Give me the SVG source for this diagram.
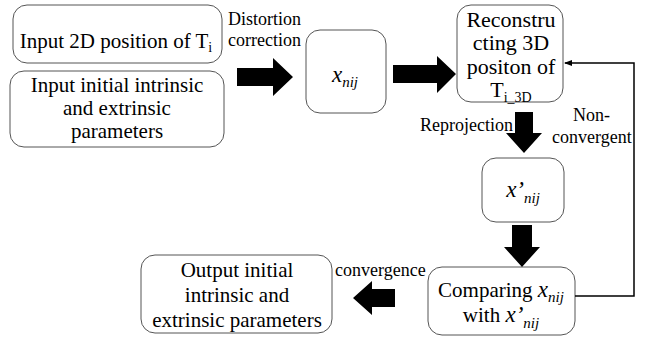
<svg xmlns="http://www.w3.org/2000/svg" width="645" height="337" viewBox="0 0 645 337" font-family="Liberation Serif, Times New Roman, serif">
<style>
.box{fill:#fff;stroke:#555;stroke-width:1}
.t{font-size:21px;text-anchor:middle}
.t4{font-size:22px}
.l{font-size:18px}
.blk{fill:#000}
.it{font-style:italic}
.xb{font-size:23px}
.sb{font-size:15px}
.si{font-size:14px}
</style>
<defs>
<marker id="ah" markerWidth="8" markerHeight="6" refX="7" refY="3" orient="auto" markerUnits="userSpaceOnUse">
<path d="M0,0 L8,3 L0,6 Z" fill="#000"/>
</marker>
</defs>
<rect width="645" height="337" fill="#fff"/>
<g id="n1">
<rect class="box" x="13" y="5" width="209" height="58" rx="14"/>
<text class="t" x="116" y="48">Input 2D position of T<tspan class="si" dy="4">i</tspan></text>
</g>
<g id="n2">
<rect class="box" x="10" y="71" width="214" height="76" rx="14"/>
<text class="t" x="117" y="92">Input initial intrinsic</text>
<text class="t" x="117" y="115">and extrinsic</text>
<text class="t" x="117" y="138">parameters</text>
</g>
<g id="n3">
<rect class="box" x="306" y="30" width="80" height="83" rx="14"/>
<text class="t it" x="345" y="82"><tspan class="xb">x</tspan><tspan class="sb" dy="5">nij</tspan></text>
</g>
<g id="n4">
<rect class="box" x="457" y="5" width="106" height="97" rx="14"/>
<text class="t t4" x="511" y="27">Reconstru</text>
<text class="t t4" x="511" y="50">cting 3D</text>
<text class="t t4" x="511" y="74">positon of</text>
<text class="t t4" x="511" y="97">T<tspan class="si" dy="5">i_3D</tspan></text>
</g>
<g id="n5">
<rect class="box" x="482" y="158" width="82" height="64" rx="14"/>
<text class="t it" x="523" y="197"><tspan class="xb">x’</tspan><tspan class="sb" dy="6">nij</tspan></text>
</g>
<g id="n6">
<rect class="box" x="428" y="267" width="147" height="68" rx="14"/>
<text class="t" x="501" y="297">Comparing <tspan class="it xb">x</tspan><tspan class="it sb" dy="5">nij</tspan></text>
<text class="t" x="501" y="322">with <tspan class="it xb">x’</tspan><tspan class="it sb" dy="6">nij</tspan></text>
</g>
<g id="n7">
<rect class="box" x="141" y="255" width="191" height="78" rx="14"/>
<text class="t" x="237" y="277">Output initial</text>
<text class="t" x="237" y="302">intrinsic and</text>
<text class="t" x="237" y="327">extrinsic parameters</text>
</g>
<g id="connectors">
<path class="blk" d="M237,68 H273 V58 L293,77 L273,96 V86 H237 Z"/>
<path class="blk" d="M393,65 H437 V56 L456,74 L437,93 V83 H393 Z"/>
<path class="blk" d="M515,112 H533 V133 H542 L524,153 L506,133 H515 Z"/>
<path class="blk" d="M512,225 H532 V247 H540 L522,267 L504,247 H512 Z"/>
<path class="blk" d="M395,289 H372 V281 L353,298 L372,315 V307 H395 Z"/>
<polyline points="575,296 634,296 634,63 565,63" fill="none" stroke="#000" stroke-width="1.5" marker-end="url(#ah)"/>
<text class="l" x="228" y="25">Distortion</text>
<text class="l" x="228" y="46">correction</text>
<text class="l" x="420" y="131">Reprojection</text>
<text class="l" x="573" y="121">Non-</text>
<text class="l" x="552" y="143">convergent</text>
<text class="l" x="335" y="276">convergence</text>
</g>
</svg>
